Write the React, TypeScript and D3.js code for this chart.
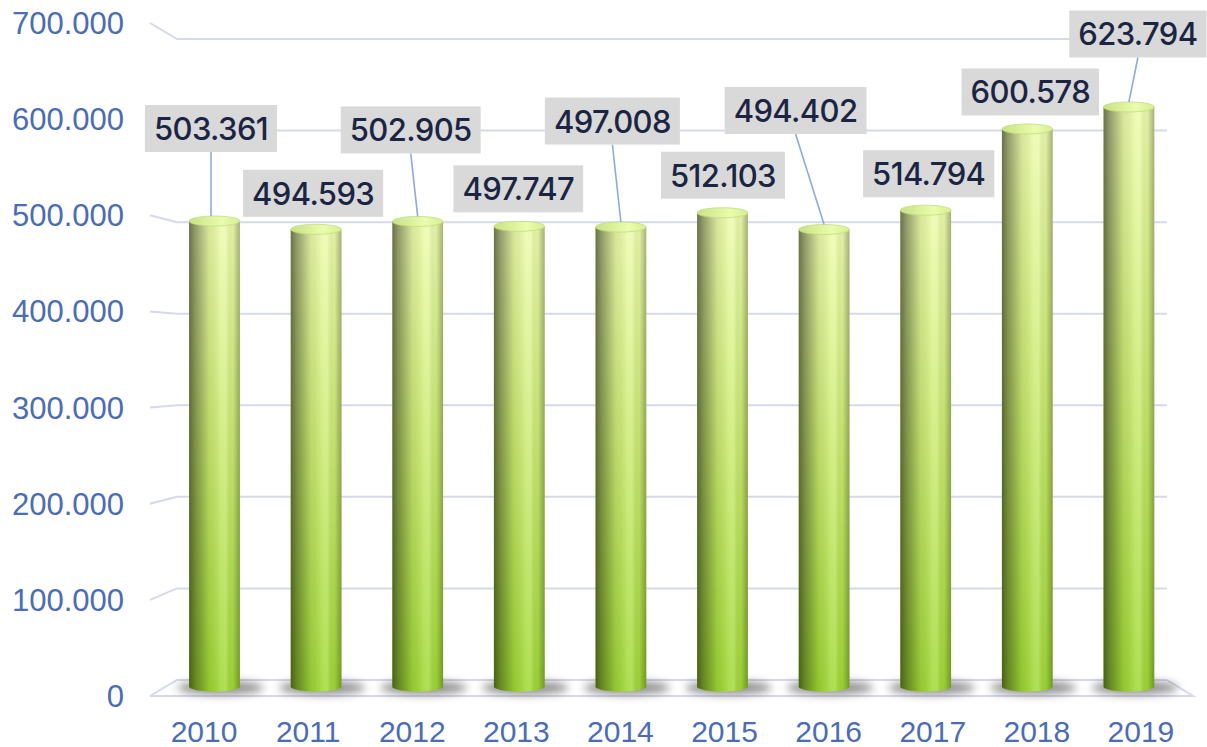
import React, { useRef, useEffect } from 'react';
import * as d3 from 'd3';

const YEARS = ['2010', '2011', '2012', '2013', '2014', '2015', '2016', '2017', '2018', '2019'];
const VALUES = [503.361, 494.593, 502.905, 497.747, 497.008, 512.103, 494.402, 514.794, 600.578, 623.794];
const Y_TICKS = [0, 100, 200, 300, 400, 500, 600, 700];
const Y_TICK_LABELS = ['0', '100.000', '200.000', '300.000', '400.000', '500.000', '600.000', '700.000'];

// where each value label sits, relative to the top of its bar
const LABEL_DX = [-3.5, -3, -7, -1, -8.5, 0.5, -28.5, 3, 3, 9];
const LABEL_DY = [-87.5, -31, -86.5, -32.5, -101, -32.5, -114, -31.5, -32, -68];

const W = 1207;
const H = 747;

const fmt = (v: number) => v.toFixed(3);

const App: React.FC = () => {
    const ref = useRef<SVGSVGElement>(null);

    useEffect(() => {
        if (!ref.current) return;
        const svg = d3.select(ref.current);
        svg.selectAll('*').remove();

        // 3D box: front plane, back wall, bars in the middle
        const yFront = d3.scaleLinear().domain([0, 700]).range([696, 23]);
        const yBack = d3.scaleLinear().domain([0, 700]).range([680, 39]);
        const yBar = d3.scaleLinear().domain([0, 700]).range([697.7, 34.8]);

        const xFront = d3.scaleBand<string>().domain(YEARS).range([152, 1193]);
        const xBar = d3.scaleBand<string>().domain(YEARS).range([163.7, 1179.7]);

        const backLeft = 177;
        const backRight = 1167;
        const frontLeft = 150;
        const frontRight = 1193;

        const data = VALUES.map((v, i) => ({ v, i, year: YEARS[i] }));

        const defs = svg.append('defs');

        const gv = defs.append('linearGradient').attr('id', 'barV')
            .attr('x1', 0).attr('y1', 0).attr('x2', 0).attr('y2', 1);
        gv.append('stop').attr('offset', 0).attr('stop-color', '#ecfbab');
        gv.append('stop').attr('offset', 0.45).attr('stop-color', '#cdeb74');
        gv.append('stop').attr('offset', 1).attr('stop-color', '#a0d835');

        const gh = defs.append('linearGradient').attr('id', 'barH')
            .attr('x1', 0).attr('y1', 0).attr('x2', 1).attr('y2', 0);
        [
            [0, '#000', 0.55],
            [0.12, '#000', 0.38],
            [0.4, '#000', 0.08],
            [0.62, '#fff', 0.12],
            [0.72, '#fff', 0.18],
            [0.86, '#000', 0.04],
            [1, '#000', 0.3],
        ].forEach(([o, c, a]) => {
            gh.append('stop').attr('offset', o as number).attr('stop-color', c as string).attr('stop-opacity', a as number);
        });

        const gc = defs.append('linearGradient').attr('id', 'capH')
            .attr('x1', 0).attr('y1', 0).attr('x2', 1).attr('y2', 0);
        gc.append('stop').attr('offset', 0).attr('stop-color', '#c9e283');
        gc.append('stop').attr('offset', 0.65).attr('stop-color', '#eafcae');
        gc.append('stop').attr('offset', 1).attr('stop-color', '#d6ee8e');

        const blur = defs.append('filter').attr('id', 'shadow')
            .attr('x', '-50%').attr('y', '-100%').attr('width', '200%').attr('height', '300%');
        blur.append('feGaussianBlur').attr('stdDeviation', 4);

        const grid = svg.append('g')
            .attr('stroke', '#d6d9eb')
            .attr('stroke-width', 2)
            .attr('fill', 'none');

        // floor
        grid.append('path')
            .attr('d', `M${frontLeft},${yFront(0)} L${frontRight},${yFront(0)} L${backRight},${yBack(0)}`);

        // back wall lines + left wall diagonals
        grid.selectAll('.gl')
            .data(Y_TICKS)
            .join('path')
            .attr('class', 'gl')
            .attr('d', d => `M${frontLeft},${yFront(d)} L${backLeft},${yBack(d)} L${backRight},${yBack(d)}`);

        // y labels
        svg.append('g')
            .selectAll('text')
            .data(Y_TICKS)
            .join('text')
            .attr('x', 124)
            .attr('y', d => yFront(d) + 11)
            .attr('text-anchor', 'end')
            .attr('fill', '#4a6db5')
            .style('font-family', '"Liberation Sans", Arial, sans-serif')
            .style('font-size', '31px')
            .text((d, i) => Y_TICK_LABELS[i]);

        // x labels
        svg.append('g')
            .selectAll('text')
            .data(YEARS)
            .join('text')
            .attr('x', d => (xFront(d) as number) + xFront.bandwidth() / 2)
            .attr('y', 742)
            .attr('text-anchor', 'middle')
            .attr('fill', '#4a6db5')
            .style('font-family', '"Liberation Sans", Arial, sans-serif')
            .style('font-size', '30px')
            .text(d => d);

        const bw = xBar.bandwidth() * 0.5;
        const rx = bw / 2;
        const ry = 5;
        const floorY = yBar(0) - 11;

        const cx = (year: string) => (xBar(year) as number) + xBar.bandwidth() / 2;

        const bars = svg.append('g')
            .selectAll('g')
            .data(data)
            .join('g');

        bars.append('ellipse')
            .attr('cx', d => cx(d.year) + 6)
            .attr('cy', floorY + 1)
            .attr('rx', rx * 1.7)
            .attr('ry', 7)
            .attr('fill', '#3a3a3a')
            .attr('opacity', 0.55)
            .attr('filter', 'url(#shadow)');

        const bodyPath = (d: { v: number; year: string }) => {
            const x0 = cx(d.year) - rx;
            const x1 = cx(d.year) + rx;
            const top = yBar(d.v);
            return `M${x0},${top} L${x0},${floorY} A${rx},${ry} 0 0 0 ${x1},${floorY} L${x1},${top} Z`;
        };

        bars.append('path').attr('d', bodyPath).attr('fill', 'url(#barV)');
        bars.append('path').attr('d', bodyPath).attr('fill', 'url(#barH)');

        bars.append('ellipse')
            .attr('cx', d => cx(d.year))
            .attr('cy', d => yBar(d.v))
            .attr('rx', rx)
            .attr('ry', ry)
            .attr('fill', 'url(#capH)')
            .attr('stroke', '#c3dc7c')
            .attr('stroke-width', 0.8);

        // value labels
        const boxH = 47;
        const lx = (d: { i: number; year: string }) => cx(d.year) + LABEL_DX[d.i];
        const ly = (d: { i: number; v: number }) => yBar(d.v) - ry + LABEL_DY[d.i];

        const labels = svg.append('g')
            .selectAll('g')
            .data(data)
            .join('g');

        labels.filter(d => LABEL_DY[d.i] < -45)
            .append('line')
            .attr('x1', d => lx(d))
            .attr('y1', d => ly(d) + boxH / 2)
            .attr('x2', d => cx(d.year) + (d.i === 0 ? -3.5 : 0))
            .attr('y2', d => yBar(d.v) - ry)
            .attr('stroke', '#8eaadc')
            .attr('stroke-width', 1.6);

        const rects = labels.append('rect')
            .attr('fill', '#d9d9d9');

        const texts = labels.append('text')
            .attr('x', d => lx(d))
            .attr('y', d => ly(d) + 11.5)
            .attr('text-anchor', 'middle')
            .attr('fill', '#1b2543')
            .style('font-family', 'Inter, "Noto Sans", sans-serif')
            .style('font-size', '31px')
            .style('font-weight', 500)
            .style('letter-spacing', '-0.6px')
            .text(d => fmt(d.v));

        texts.each(function (d) {
            const tw = (this as SVGTextElement).getComputedTextLength();
            d3.select(rects.nodes()[d.i])
                .attr('x', lx(d) - tw / 2 - 9)
                .attr('y', ly(d) - boxH / 2)
                .attr('width', tw + 18)
                .attr('height', boxH);
        });
    }, []);

    return (
        <svg
            ref={ref}
            width={W}
            height={H}
            style={{ position: 'absolute', left: 0, top: 0, background: '#fff' }}
        />
    );
};

export default App;
